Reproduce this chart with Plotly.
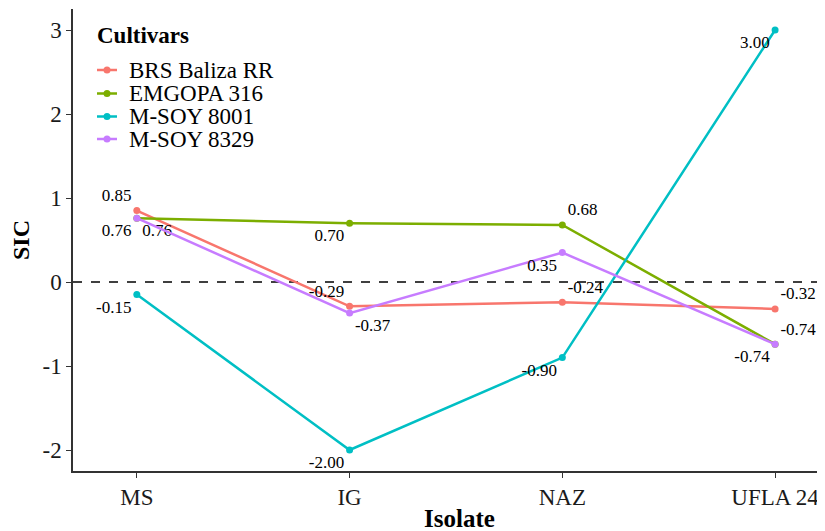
import plotly.graph_objects as go

isolates = ["MS", "IG", "NAZ", "UFLA 24"]
cultivars = ["BRS Baliza RR", "EMGOPA 316", "M-SOY 8001", "M-SOY 8329"]
brs_baliza = [0.85, -0.29, -0.24, -0.32]
emgopa_316 = [0.76, 0.70, 0.68, -0.74]
msoy_8001 = [-0.15, -2.00, -0.90, 3.00]
msoy_8329 = [0.76, -0.37, 0.35, -0.74]
y_ticks = [-2, -1, 0, 1, 2, 3]

series = [brs_baliza, emgopa_316, msoy_8001, msoy_8329]
colors = ["#F8766D", "#7CAE00", "#00BFC4", "#C77CFF"]
label_pos = [
    ["top left", "top left", "top right", "top right"],
    ["bottom right", "bottom left", "top right", "top right"],
    ["bottom left", "bottom left", "bottom left", "bottom left"],
    ["bottom left", "bottom right", "bottom left", "bottom left"],
]

FONT = "Liberation Serif, Times New Roman, serif"
W, H = 825, 531
ML, MR, MT, MB = 65, 0, 1, 68
# page offset of the figure (browser body margin)
OFF = 8
PX0, PX1 = ML + OFF, W - MR + OFF
PY0, PY1 = MT + OFF, H - MB + OFF


def px(x):
    return (x - PX0) / (PX1 - PX0)


def py(y):
    return (PY1 - y) / (PY1 - PY0)


fig = go.Figure()
for name, vals, col, pos in zip(cultivars, series, colors, label_pos):
    fig.add_trace(go.Scatter(
        x=isolates, y=vals, name=name, mode="lines+markers+text", showlegend=False,
        line=dict(color=col, width=2.5), marker=dict(color=col, size=7),
        text=[f"{v:.2f}" for v in vals], textposition=pos,
        textfont=dict(family=FONT, size=17, color="black"),
        cliponaxis=False,
    ))

# manual legend (compact like ggplot)
annotations = [dict(
    text="<b>Cultivars</b>", x=px(95), y=py(36), xref="paper", yref="paper",
    xanchor="left", yanchor="middle", showarrow=False,
    font=dict(family=FONT, size=23, color="black"),
)]
shapes = []
row_y = [70, 93.5, 116.5, 139]
for name, col, ry in zip(cultivars, colors, row_y):
    annotations.append(dict(
        text=name, x=px(127), y=py(ry), xref="paper", yref="paper",
        xanchor="left", yanchor="middle", showarrow=False,
        font=dict(family=FONT, size=23, color="black"),
    ))
    shapes.append(dict(type="line", xref="paper", yref="paper",
                       x0=px(97), x1=px(117), y0=py(ry), y1=py(ry),
                       line=dict(color=col, width=2.5)))
    shapes.append(dict(type="circle", xref="paper", yref="paper",
                       xsizemode="pixel", ysizemode="pixel",
                       xanchor=px(107), yanchor=py(ry),
                       x0=-3.5, x1=3.5, y0=-3.5, y1=3.5,
                       fillcolor=col, line=dict(color=col, width=0)))

# x-axis title placed like the reference
annotations.append(dict(
    text="<b>Isolate</b>", x=px(459), y=py(518), xref="paper", yref="paper",
    xanchor="center", yanchor="middle", showarrow=False,
    font=dict(family=FONT, size=25, color="black"),
))

# zero reference line
shapes.insert(0, dict(type="line", xref="paper", yref="y", x0=0, x1=1, y0=0, y1=0,
                      line=dict(color="black", width=1.3, dash="dash"), layer="below"))

fig.update_layout(
    width=W, height=H, plot_bgcolor="white", paper_bgcolor="white",
    margin=dict(l=ML, r=MR, t=MT, b=MB, autoexpand=False),
    font=dict(family=FONT, size=23, color="black"),
    showlegend=False,
    annotations=annotations, shapes=shapes,
    xaxis=dict(
        type="category", range=[-0.3, (PX1 - 137) / 212.7], showline=True, linecolor="#333", linewidth=1.5,
        ticks="outside", ticklen=5, tickcolor="#333", tickfont=dict(family=FONT, size=23, color="#1a1a1a"),
        showgrid=False, zeroline=False,
    ),
    yaxis=dict(
        range=[-2.25, 3.25], tickvals=y_ticks, ticktext=[str(t) for t in y_ticks],
        showline=True, linecolor="#333", linewidth=1.5,
        ticks="outside", ticklen=5, tickcolor="#333", tickfont=dict(family=FONT, size=23, color="#1a1a1a"),
        title=dict(text="<b>SIC</b>", font=dict(family=FONT, size=24), standoff=8),
        showgrid=False, zeroline=False,
    ),
)
fig.write_html("out.html")
